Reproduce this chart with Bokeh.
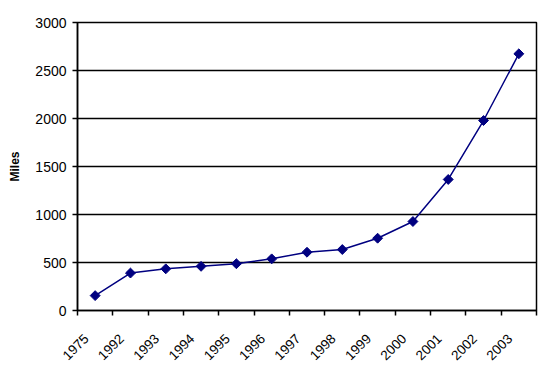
import math
from bokeh.plotting import figure
from bokeh.models import FixedTicker, Range1d, ColumnDataSource
from bokeh.embed import file_html
from bokeh.resources import INLINE

years = ["1975", "1992", "1993", "1994", "1995", "1996", "1997", "1998",
         "1999", "2000", "2001", "2002", "2003"]
miles = [155, 390, 434, 460, 487, 538, 607, 635, 753, 927, 1365, 1979, 2674]
y_ticks = [0, 500, 1000, 1500, 2000, 2500, 3000]

xpos = [i + 0.5 for i in range(len(years))]
label_pos = [i + 0.25 for i in range(len(years))]
src = ColumnDataSource(dict(x=xpos, y=miles))

p = figure(width=550, height=369, output_backend="svg", toolbar_location=None,
           x_range=Range1d(0, len(years)), y_range=Range1d(0, 3000),
           min_border_left=77, min_border_right=14, min_border_top=22,
           min_border_bottom=59)

p.line("x", "y", source=src, line_color="#000080", line_width=1.5)
p.scatter("x", "y", source=src, marker="square", size=7, angle=math.pi / 4,
          fill_color="#000080", line_color="#000080")

xa = p.xaxis[0]
xa.ticker = FixedTicker(ticks=label_pos, minor_ticks=list(range(len(years) + 1)))
xa.major_label_overrides = {x: y for x, y in zip(label_pos, years)}
xa.major_tick_line_color = None
xa.minor_tick_line_color = "black"
xa.minor_tick_line_width = 1.5
xa.minor_tick_out = 5
xa.minor_tick_in = 0
xa.major_label_orientation = math.pi / 4
xa.major_label_standoff = 20
xa.axis_line_width = 1.5
xa.major_label_text_font = "Liberation Sans"
xa.major_label_text_font_size = "13.5px"
xa.major_label_text_color = "black"

ya = p.yaxis[0]
ya.ticker = FixedTicker(ticks=y_ticks)
ya.major_tick_out = 5
ya.major_tick_in = 0
ya.major_tick_line_width = 1.5
ya.minor_tick_line_color = None
ya.axis_line_width = 1.5
ya.major_label_text_font = "Liberation Sans"
ya.major_label_text_font_size = "14px"
ya.major_label_text_color = "black"
ya.major_label_standoff = 6
ya.axis_label = "Miles"
ya.axis_label_text_font = "Liberation Sans"
ya.axis_label_text_font_size = "12px"
ya.axis_label_text_font_style = "bold"
ya.axis_label_text_color = "black"
ya.axis_label_standoff = 10

p.xgrid.grid_line_color = None
p.ygrid.ticker = FixedTicker(ticks=y_ticks)
p.ygrid.grid_line_color = "black"
p.ygrid.grid_line_width = 1.5

p.outline_line_color = "black"
p.outline_line_width = 1.5
p.background_fill_color = "white"
p.border_fill_color = "white"

open("out.html", "w").write(file_html(p, INLINE))
